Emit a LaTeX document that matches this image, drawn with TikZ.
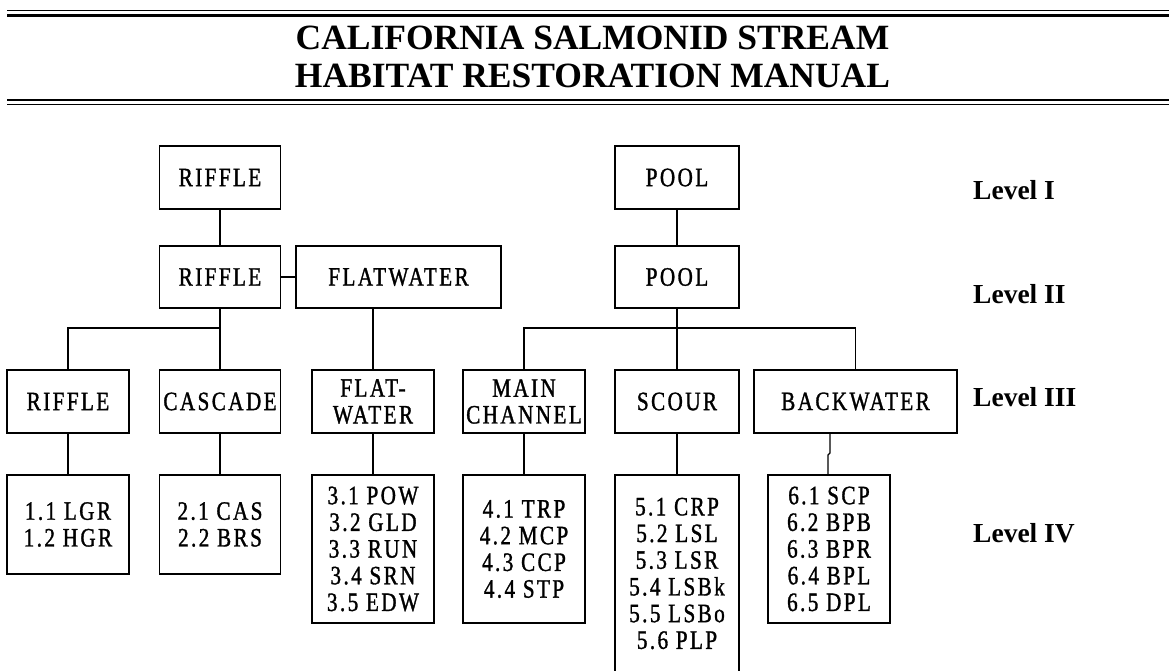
\documentclass[tikz,border=0pt]{standalone}
\usepackage{fontspec}
\setmainfont{Liberation Serif}
\newfontfamily\boxfont[FakeStretch=0.8,LetterSpace=9,FakeBold=1.2]{Liberation Serif}
\usetikzlibrary{calc}
\tikzset{
  box/.style={draw, line width=1.1pt, inner sep=0pt, outer sep=0pt, align=center,
    font=\boxfont\fontsize{26.5}{26.7}\selectfont},
  conn/.style={line width=1.1pt},
  lvl/.style={anchor=base west, inner sep=0pt, font=\bfseries\fontsize{27.5}{30}\selectfont},
  ttl/.style={anchor=base, inner sep=0pt, font=\bfseries\fontsize{35.5}{39}\selectfont},
}
\begin{document}
\begin{tikzpicture}[x=1pt,y=-1pt]
\useasboundingbox (0,0) rectangle (1169,671);
% header rules
\draw[line width=1pt] (7,10.5) -- (1169,10.5);
\draw[line width=2.4pt] (7,15.5) -- (1169,15.5);
\draw[line width=2.4pt] (7,100) -- (1169,100);
\draw[line width=1pt] (7,104.5) -- (1169,104.5);
\node[ttl] (t1) at (592.5,50) {CALIFORNIA SALMONID STREAM};
\node[ttl] (t2) at (592.5,88) {HABITAT RESTORATION MANUAL};
% level I
\node[box, minimum width=121, minimum height=63] (r1) at (220,177.5) {RIFFLE};
\node[box, minimum width=124, minimum height=63] (p1) at (677,177.5) {POOL};
% level II
\node[box, minimum width=121, minimum height=62] (r2) at (220,277) {RIFFLE};
\node[box, minimum width=205, minimum height=62] (fw2) at (398.5,277) {FLATWATER};
\node[box, minimum width=124, minimum height=62] (p2) at (677,277) {POOL};
% level III
\node[box, minimum width=122, minimum height=63] (r3) at (68,401.5) {RIFFLE};
\node[box, minimum width=121, minimum height=63] (cas) at (220,401.5) {CASCADE};
\node[box, minimum width=122, minimum height=63] (fw3) at (373,401.5) {FLAT-\\WATER};
\node[box, minimum width=122, minimum height=63] (mc) at (524,401.5) {MAIN\\CHANNEL};
\node[box, minimum width=124, minimum height=63] (sc) at (677,401.5) {SCOUR};
\node[box, minimum width=203, minimum height=63] (bw) at (855.5,401.5) {BACKWATER};
% level IV
\node[box, minimum width=122, minimum height=99] (lgr) at (68,524.5) {1.1 LGR\\1.2 HGR};
\node[box, minimum width=121, minimum height=99] (cas4) at (220,524.5) {2.1 CAS\\2.2 BRS};
\node[box, minimum width=122, minimum height=148] (pow) at (373,549) {3.1 POW\\3.2 GLD\\3.3 RUN\\3.4 SRN\\3.5 EDW};
\node[box, minimum width=122, minimum height=148] (trp) at (524,549) {4.1 TRP\\4.2 MCP\\4.3 CCP\\4.4 STP};
\node[box, minimum width=124, minimum height=197] (crp) at (677,573.5) {5.1 CRP\\5.2 LSL\\5.3 LSR\\5.4 LSBk\\5.5 LSBo\\5.6 PLP};
\node[box, minimum width=122, minimum height=148] (scp) at (829,549) {6.1 SCP\\6.2 BPB\\6.3 BPR\\6.4 BPL\\6.5 DPL};
% level labels
\node[lvl] (l1) at (973,200) {Level I};
\node[lvl] (l2) at (973,303) {Level II};
\node[lvl] (l3) at (973,406) {Level III};
\node[lvl] (l4) at (973,542) {Level IV};
% connectors
\draw[conn] (r1.south) -- (r2.north);
\draw[conn] (r2.east) -- (fw2.west);
\draw[conn] (r2.south) -- (cas.north);
\draw[conn] (r2.south |- 0,328) -| (r3.north);
\draw[conn] (fw3.north) -- (fw3.north |- fw2.south);
\draw[conn] (p1.south) -- (p2.north);
\draw[conn] (p2.south) -- (sc.north);
\draw[conn] (mc.north) |- (p2.south |- 0,328) -| (bw.north);
\draw[conn] (r3.south) -- (lgr.north);
\draw[conn] (cas.south) -- (cas4.north);
\draw[conn] (fw3.south) -- (pow.north);
\draw[conn] (mc.south) -- (trp.north);
\draw[conn] (sc.south) -- (crp.north);
\draw[conn] ($(bw.south -| scp.north)+(1,0)$) -- ++(0,20) -- ++(-2,2) -- ($(scp.north)+(-1,0)$);
\end{tikzpicture}
\end{document}
